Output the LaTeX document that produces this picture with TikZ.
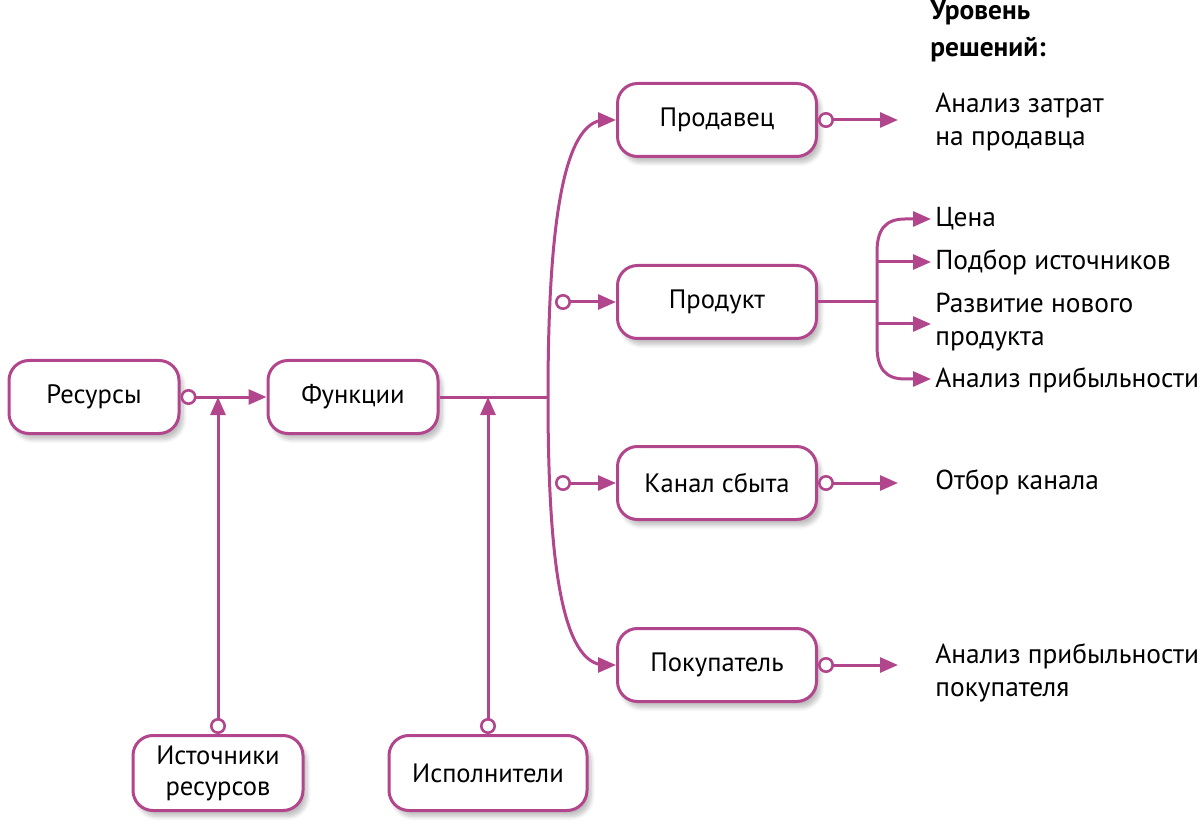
\documentclass[tikz,border=0pt]{standalone}
\usepackage{fontspec}
\setmainfont{PT Sans}
\usetikzlibrary{arrows.meta,shadows.blur}
\definecolor{mag}{HTML}{B2468C}
\begin{document}
\begin{tikzpicture}[x=0.5pt,y=-0.5pt,
  box/.style={draw=mag,line width=1.5pt,rounded corners=10pt,fill=white,
    minimum width=85pt,minimum height=36.5pt,align=center,font=\fontsize{13.3}{15.5}\selectfont,
    blur shadow={shadow xshift=2pt,shadow yshift=-3pt,shadow blur steps=6,shadow opacity=25}},
  lab/.style={anchor=west,align=left,inner sep=0pt,font=\fontsize{13.7}{16.5}\selectfont},
  conn/.style={draw=mag,line width=1.5pt},
  arr/.style={conn,-{Triangle[length=9pt,width=7.5pt]}},
  carr/.style={conn,{Circle[length=8pt,width=8pt,line width=1.3pt,fill=white]}-{Triangle[length=9pt,width=7.5pt]}},
]
\useasboundingbox (0,0) rectangle (1200,834);
% boxes
\node[box] (res) at (94,397) {Ресурсы};
\node[box] (fun) at (353,397) {Функции};
\node[box,minimum width=99.5pt] (prd) at (717,120) {Продавец};
\node[box,minimum width=99.5pt] (pdk) at (717,302) {Продукт};
\node[box,minimum width=99.5pt] (kan) at (717,483) {Канал сбыта};
\node[box,minimum width=99.5pt] (pok) at (717,665) {Покупатель};
\node[box,minimum height=37.5pt] (ist) at (218,773) {Источники\\ресурсов};
\node[box,minimum width=99pt,minimum height=37.5pt] (isp) at (488,773) {Исполнители};
% labels
\node[lab,anchor=north west,font=\fontsize{13.7}{18.5}\selectfont\bfseries] (hdr) at (930,0) {Уровень\\решений:};
\node[lab] (t1) at (935,122) {Анализ затрат\\на продавца};
\node[lab] (t2) at (935,219) {Цена};
\node[lab] (t3) at (935,262) {Подбор источников};
\node[lab] (t4) at (935,322) {Развитие нового\\продукта};
\node[lab] (t5) at (935,380) {Анализ прибыльности};
\node[lab] (t6) at (935,482) {Отбор канала};
\node[lab] (t7) at (935,673) {Анализ прибыльности\\покупателя};
% coordinates
\coordinate (j1) at (218,397);
\coordinate (j2) at (488,397);
\coordinate (tr) at (548,397);
\coordinate (c2) at (555,302);
\coordinate (c3) at (555,483);
\coordinate (e1) at (898,120);
\coordinate (e3) at (898,483);
\coordinate (e4) at (898,665);
\coordinate (br) at (877,302);
% connectors left
\draw[carr] (res.east) -- (fun.west);
\draw[carr] (ist.north) -- (j1);
\draw[carr] (isp.north) -- (j2);
\draw[conn] (fun.east) -- (tr);
% trunk
\draw[arr] (tr) .. controls (548,232) and (562,120) .. (605,120) -- (prd.west);
\draw[arr] (tr) .. controls (548,562) and (562,665) .. (605,665) -- (pok.west);
\draw[carr] (c2) -- (pdk.west);
\draw[carr] (c3) -- (kan.west);
% right side
\draw[carr] (prd.east) -- (e1);
\draw[carr] (kan.east) -- (e3);
\draw[carr] (pok.east) -- (e4);
\draw[conn] (pdk.east) -- (br);
\draw[arr] (br) -- (877,252) .. controls (877,230) and (885,219) .. (905,219) -- ([xshift=-2pt]t2.west);
\draw[arr] (br) -- (877,346) .. controls (877,368) and (885,379) .. (905,379) -- ([xshift=-2pt]t5.west |- 0,379);
\draw[arr] (877,262) -- ([xshift=-2pt]t3.west);
\draw[arr] (877,324) -- ([xshift=-2pt]t4.west |- 0,324);
\end{tikzpicture}
\end{document}
